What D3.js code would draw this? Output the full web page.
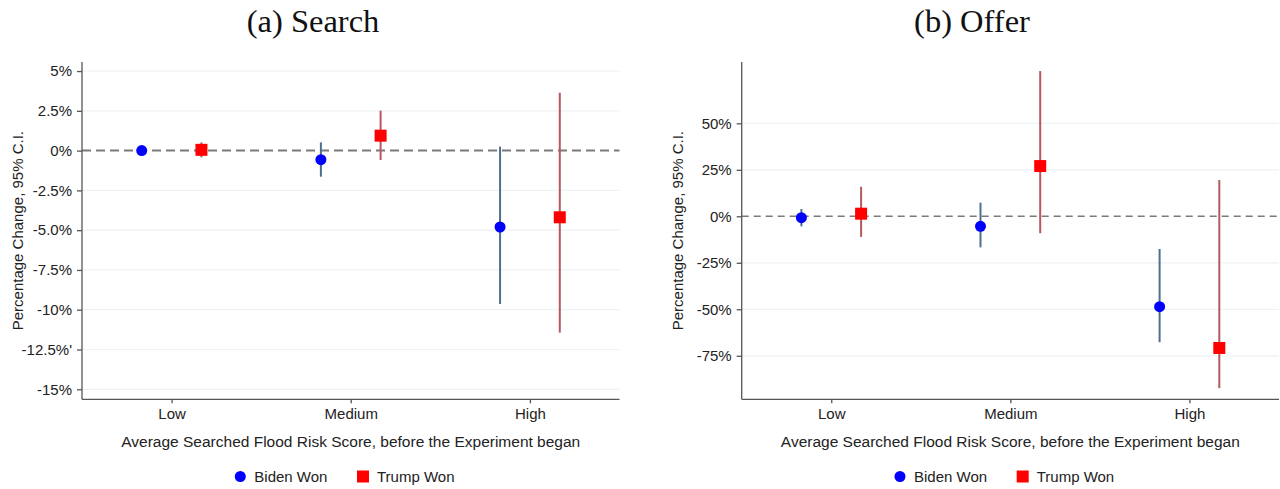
<!DOCTYPE html>
<html>
<head>
<meta charset="utf-8">
<script src="https://cdn.jsdelivr.net/npm/d3@7"></script>
<style>
  html, body { margin: 0; padding: 0; background: #fff; }
  svg { display: block; }
  .tick text { font-family: "Liberation Sans", Arial, sans-serif; }
</style>
</head>
<body>
<svg id="chart" width="1280" height="489"></svg>
<script>
// Categories and groups
const categories = ["Low", "Medium", "High"];
const groups = ["Biden Won", "Trump Won"];

// (a) Search: point estimates and 95% CI bounds, in percent
const searchBidenEst = [0.0, -0.57, -4.80];
const searchBidenLo  = [-0.2, -1.64, -9.64];
const searchBidenHi  = [0.2, 0.52, 0.25];
const searchTrumpEst = [0.05, 0.94, -4.19];
const searchTrumpLo  = [-0.42, -0.59, -11.44];
const searchTrumpHi  = [0.52, 2.51, 3.64];

// (b) Offer: point estimates and 95% CI bounds, in percent
const offerBidenEst = [-0.75, -5.4, -48.6];
const offerBidenLo  = [-5.4, -16.7, -67.7];
const offerBidenHi  = [3.9, 7.3, -17.6];
const offerTrumpEst = [1.4, 27.0, -70.8];
const offerTrumpLo  = [-11.1, -9.1, -92.4];
const offerTrumpHi  = [15.9, 78.1, 19.5];

// Tick values and their labels
const searchTicks = [5, 2.5, 0, -2.5, -5, -7.5, -10, -12.5, -15];
const searchTickLabels = ["5%", "2.5%", "0%", "-2.5%", "-5.0%", "-7.5%", "-10%", "-12.5%'", "-15%"];
const offerTicks = [50, 25, 0, -25, -50, -75];
const offerTickLabels = ["50%", "25%", "0%", "-25%", "-50%", "-75%"];

const titles = ["(a) Search", "(b) Offer"];
const xTitle = "Average Searched Flood Risk Score, before the Experiment began";
const yTitle = "Percentage Change, 95% C.I.";

const colors = {
  bidenMarker: "#0000ff",
  trumpMarker: "#ff0000",
  bidenCI: "#4e6e92",
  trumpCI: "#b45a5e",
  axis: "#555555",
  grid: "#edf2f3",
  ref: "#7a7a7a",
  text: "#222222"
};

const panels = [
  {
    title: titles[0], titleX: 313,
    left: 82, right: 619.5, top: 62, bottom: 399.3,
    yDomain: [-15.63, 5.57],
    ticks: searchTicks, tickLabels: searchTickLabels,
    refWidth: 2, refDash: "9,5",
    biden: { est: searchBidenEst, lo: searchBidenLo, hi: searchBidenHi },
    trump: { est: searchTrumpEst, lo: searchTrumpLo, hi: searchTrumpHi }
  },
  {
    title: titles[1], titleX: 972,
    left: 741.7, right: 1279, top: 62, bottom: 399.3,
    yDomain: [-98.4, 82.96],
    ticks: offerTicks, tickLabels: offerTickLabels,
    refWidth: 1.5, refDash: "7,5",
    biden: { est: offerBidenEst, lo: offerBidenLo, hi: offerBidenHi },
    trump: { est: offerTrumpEst, lo: offerTrumpLo, hi: offerTrumpHi }
  }
];

const svg = d3.select("#chart");
const offset = 1 / 6;

panels.forEach(p => {
  const g = svg.append("g");
  const x = d3.scaleLinear().domain([0.5, categories.length + 0.5]).range([p.left, p.right]);
  const y = d3.scaleLinear().domain(p.yDomain).range([p.bottom, p.top]);

  // Title
  svg.append("text")
    .attr("x", p.titleX).attr("y", 32)
    .attr("text-anchor", "middle")
    .attr("font-family", "'Liberation Serif', 'Times New Roman', serif")
    .attr("font-size", 32.5)
    .attr("fill", "#111")
    .text(p.title);

  // Horizontal gridlines
  g.append("g").selectAll("line")
    .data(p.ticks.filter(t => t !== 0 && y(t) > p.top + 1 && y(t) < p.bottom - 1))
    .join("line")
    .attr("x1", p.left).attr("x2", p.right)
    .attr("y1", d => y(d)).attr("y2", d => y(d))
    .attr("stroke", colors.grid).attr("stroke-width", 1.2);

  // Zero reference line
  g.append("line")
    .attr("x1", p.left).attr("x2", p.right)
    .attr("y1", y(0)).attr("y2", y(0))
    .attr("stroke", colors.ref).attr("stroke-width", p.refWidth)
    .attr("stroke-dasharray", p.refDash);

  // Y axis
  const yAxis = d3.axisLeft(y)
    .tickValues(p.ticks)
    .tickFormat((d, i) => p.tickLabels[i])
    .tickSize(5).tickPadding(5);
  const ya = g.append("g").attr("transform", `translate(${p.left},0)`).call(yAxis);
  ya.select(".domain").attr("d", `M-0,${p.top}V${p.bottom}`);
  ya.selectAll("line, .domain").attr("stroke", colors.axis).attr("stroke-width", 1.3);
  ya.selectAll("text").attr("font-size", 15).attr("fill", colors.text);

  // X axis
  const xAxis = d3.axisBottom(x)
    .tickValues(categories.map((c, i) => i + 1))
    .tickFormat((d, i) => categories[i])
    .tickSize(4).tickPadding(5);
  const xa = g.append("g").attr("transform", `translate(0,${p.bottom})`).call(xAxis);
  xa.select(".domain").attr("d", `M${p.left},0H${p.right}`);
  xa.selectAll("line, .domain").attr("stroke", colors.axis).attr("stroke-width", 1.3);
  xa.selectAll("text").attr("font-size", 15).attr("fill", colors.text);

  // Axis titles
  g.append("text")
    .attr("x", (p.left + p.right) / 2).attr("y", 447)
    .attr("text-anchor", "middle")
    .attr("font-family", "'Liberation Sans', Arial, sans-serif")
    .attr("font-size", 15.5).attr("fill", colors.text)
    .text(xTitle);
  g.append("text")
    .attr("transform", `translate(${p.left - 59},${(p.top + p.bottom) / 2}) rotate(-90)`)
    .attr("text-anchor", "middle")
    .attr("font-family", "'Liberation Sans', Arial, sans-serif")
    .attr("font-size", 15).attr("fill", colors.text)
    .text(yTitle);

  // Confidence intervals and point estimates
  const series = [
    { key: "biden", d: p.biden, dx: -offset, ci: colors.bidenCI },
    { key: "trump", d: p.trump, dx: offset, ci: colors.trumpCI }
  ];
  series.forEach(s => {
    const rows = categories.map((c, i) => ({ pos: i + 1 + s.dx, est: s.d.est[i], lo: s.d.lo[i], hi: s.d.hi[i] }));
    g.append("g").selectAll("line")
      .data(rows).join("line")
      .attr("x1", r => x(r.pos)).attr("x2", r => x(r.pos))
      .attr("y1", r => y(r.lo)).attr("y2", r => y(r.hi))
      .attr("stroke", s.ci).attr("stroke-width", 2);
    if (s.key === "biden") {
      g.append("g").selectAll("circle")
        .data(rows).join("circle")
        .attr("cx", r => x(r.pos)).attr("cy", r => y(r.est))
        .attr("r", 5.5).attr("fill", colors.bidenMarker);
    } else {
      g.append("g").selectAll("rect")
        .data(rows).join("rect")
        .attr("x", r => x(r.pos) - 6).attr("y", r => y(r.est) - 6)
        .attr("width", 12).attr("height", 12).attr("fill", colors.trumpMarker);
    }
  });

  // Legend
  const lg = g.append("g").attr("transform", `translate(${p.left + 158.3},476.5)`);
  lg.append("circle").attr("cx", 0).attr("cy", 0).attr("r", 5.5).attr("fill", colors.bidenMarker);
  lg.append("text").attr("x", 14).attr("y", 5.5)
    .attr("font-family", "'Liberation Sans', Arial, sans-serif")
    .attr("font-size", 15).attr("fill", colors.text).text(groups[0]);
  lg.append("rect").attr("x", 116.7).attr("y", -6).attr("width", 12).attr("height", 12).attr("fill", colors.trumpMarker);
  lg.append("text").attr("x", 136.7).attr("y", 5.5)
    .attr("font-family", "'Liberation Sans', Arial, sans-serif")
    .attr("font-size", 15).attr("fill", colors.text).text(groups[1]);
});
</script>
</body>
</html>
